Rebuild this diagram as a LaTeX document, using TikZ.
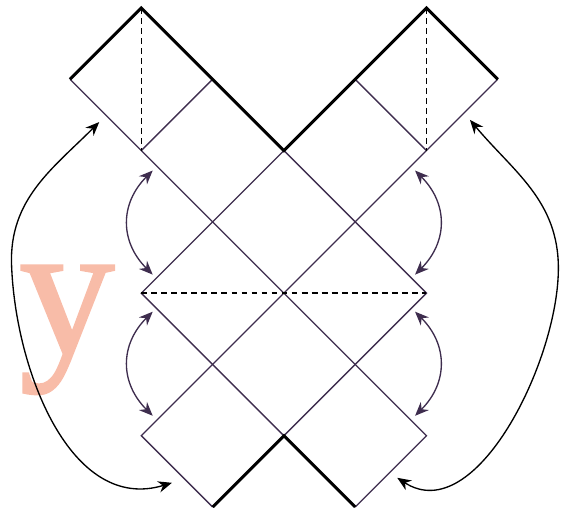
\documentclass[tikz,border=0pt]{standalone}
\usepackage{fontspec}
\newfontfamily\markfont[FakeBold=1.3]{Liberation Serif}
\usetikzlibrary{arrows.meta}
\definecolor{edgecol}{RGB}{62,45,78}
\definecolor{markcol}{RGB}{248,188,168}
\begin{document}
\begin{tikzpicture}[x=1.5cm,y=1.5cm,
  edge/.style={edgecol,line width=0.8pt},
  rim/.style={line width=1.8pt,line join=miter},
  fold/.style={dash pattern=on 3.5pt off 2.5pt,line width=0.9pt},
  headtip/.tip={Stealth[length=2.9mm,width=2.4mm]},
  swap/.style={edgecol,line width=0.8pt,{headtip}-{headtip}},
  glue/.style={line width=0.8pt,{headtip}-{headtip}}]
\useasboundingbox (-3.982,-3.013) rectangle (3.971,4.112);
\node[markcol,font=\markfont\fontsize{114}{114}\selectfont,anchor=base east,inner sep=0pt] (mark) at (-2.37,-0.84) {y};
\draw[edge] (-3,3)--(2,-2)--(1,-3);
\draw[edge] (3,3)--(-2,-2)--(-1,-3);
\draw[edge] (-2,2)--(-1,3);
\draw[edge] (1,3)--(2,2);
\draw[edge] (0,2)--(-2,0)--(0,-2)--(2,0)--cycle;
\draw[fold] (-2,4)--(-2,2);
\draw[fold] (2,4)--(2,2);
\draw[fold] (-2,0)--(2,0);
\draw[rim] (-3,3)--(-2,4)--(0,2)--(2,4)--(3,3);
\draw[rim] (-1,-3)--(0,-2)--(1,-3);
\coordinate (la) at (-1.84,1.72);
\coordinate (lb) at (-1.84,0.26);
\coordinate (lc) at (-1.84,-0.26);
\coordinate (ld) at (-1.84,-1.72);
\coordinate (ra) at (1.84,1.72);
\coordinate (rb) at (1.84,0.26);
\coordinate (rc) at (1.84,-0.26);
\coordinate (rd) at (1.84,-1.72);
\draw[swap] (la) to[out=225,in=135,looseness=1.15] (lb);
\draw[swap] (lc) to[out=225,in=135,looseness=1.15] (ld);
\draw[swap] (ra) to[out=-45,in=45,looseness=1.15] (rb);
\draw[swap] (rc) to[out=-45,in=45,looseness=1.15] (rd);
\coordinate (ltop) at (-2.59,2.40);
\coordinate (lbot) at (-1.57,-2.66);
\coordinate (rtop) at (2.61,2.43);
\coordinate (rbot) at (1.59,-2.59);
\draw[glue] (ltop) to[out=225,in=92] (-3.82,0.4) to[out=-88,in=197] (lbot);
\draw[glue] (rtop) to[out=-50,in=90] (3.85,0.35) to[out=-90,in=-33,looseness=0.9] (rbot);
\end{tikzpicture}
\end{document}
